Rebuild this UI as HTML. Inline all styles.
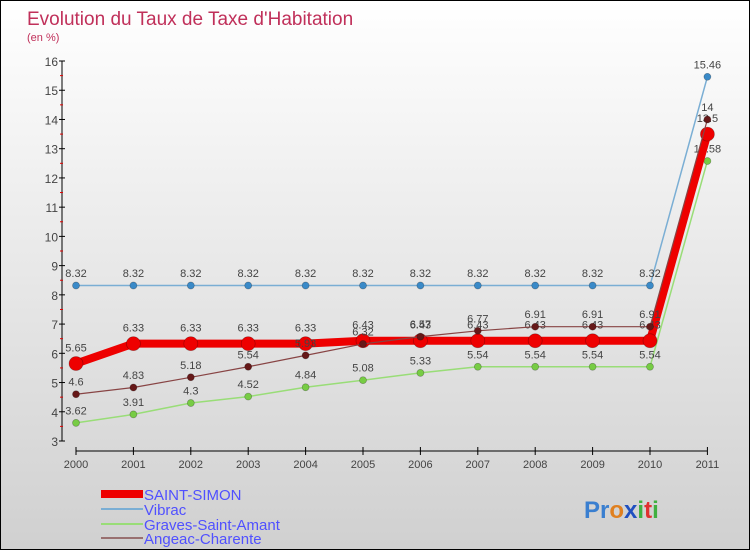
<!DOCTYPE html>
<html><head><meta charset="utf-8"><style>
body{margin:0}
#wrap{width:748px;height:548px;border:1px solid #000;background:linear-gradient(#ffffff,#d0d0d0);position:relative;overflow:hidden;font-family:"Liberation Sans",sans-serif}
</style></head><body>
<div id="wrap">
<svg id="svg" width="748" height="548" xmlns="http://www.w3.org/2000/svg" style="position:absolute;left:0;top:0">
<text x="26" y="24" font-size="19" fill="#c0305a">Evolution du Taux de Taxe d'Habitation</text>
<text x="26" y="40" font-size="11" fill="#c0305a">(en %)</text>
<g id="axes"></g><g id="series"></g>
<g>
<rect x="100" y="489" width="42" height="8" fill="#ee0000"/>
<text x="143" y="499" font-size="15" fill="#5050ff">SAINT-SIMON</text>
<line x1="100" y1="508" x2="142" y2="508" stroke="#7aaed4" stroke-width="2"/>
<text x="143" y="514" font-size="15" fill="#5050ff">Vibrac</text>
<line x1="100" y1="523" x2="142" y2="523" stroke="#99dd77" stroke-width="2"/>
<text x="143" y="529" font-size="15" fill="#5050ff">Graves-Saint-Amant</text>
<line x1="100" y1="537" x2="142" y2="537" stroke="#997070" stroke-width="2"/>
<text x="143" y="543" font-size="15" fill="#5050ff">Angeac-Charente</text>
</g>
<text x="583" y="517" font-size="24" font-weight="bold"><tspan fill="#3a7fd0">Pr</tspan><tspan fill="#e08020">o</tspan><tspan fill="#2050c0">x</tspan><tspan fill="#40b040">i</tspan><tspan fill="#e03030">t</tspan><tspan fill="#40b040">i</tspan></text>
</svg>
</div>
<script>
const years=["2000","2001","2002","2003","2004","2005","2006","2007","2008","2009","2010","2011"];
const saintSimon=[5.65,6.33,6.33,6.33,6.33,6.43,6.43,6.43,6.43,6.43,6.43,13.5];
const vibrac=[8.32,8.32,8.32,8.32,8.32,8.32,8.32,8.32,8.32,8.32,8.32,15.46];
const graves=[3.62,3.91,4.3,4.52,4.84,5.08,5.33,5.54,5.54,5.54,5.54,12.58];
const angeac=[4.6,4.83,5.18,5.54,5.93,6.32,6.57,6.77,6.91,6.91,6.91,14];
const yTicks=[3,4,5,6,7,8,9,10,11,12,13,14,15,16];
const NS="http://www.w3.org/2000/svg";
const X=i=>75+i*57.4;
const Y=v=>440-(v-3)*29.23;
function mk(p,t,a){const e=document.createElementNS(NS,t);for(const k in a)e.setAttribute(k,a[k]);p.appendChild(e);return e;}
const ax=document.getElementById('axes');
let e=mk(ax,'line',{x1:61,y1:Y(16),x2:61,y2:Y(3),stroke:'#000'});

e=mk(ax,'line',{x1:X(0),y1:450,x2:X(11),y2:450,stroke:'#000'});

yTicks.forEach(v=>{mk(ax,'line',{x1:58,y1:Y(v),x2:64,y2:Y(v),stroke:'#000'});
 if(v<16)mk(ax,'line',{x1:59,y1:Y(v+0.5),x2:62,y2:Y(v+0.5),stroke:'#e00000'});
 const t=mk(ax,'text',{x:57,y:Y(v)+5,'font-size':12,fill:'#444','text-anchor':'end'});t.textContent=v;
 });
years.forEach((y,i)=>{mk(ax,'line',{x1:X(i),y1:446,x2:X(i),y2:454,stroke:'#000'});
 const t=mk(ax,'text',{x:X(i),y:467,'font-size':11,fill:'#444','text-anchor':'middle'});t.textContent=y;
 });
const sg=document.getElementById('series');
function series(name,data,color,dot,w,r){
 const g=mk(sg,'g',{});
 const p=mk(g,'polyline',{points:data.map((v,i)=>X(i)+','+Y(v)).join(' '),fill:'none',stroke:color,'stroke-width':w,'stroke-linejoin':'round'});
 
 data.forEach((v,i)=>{const c=mk(g,'circle',{cx:X(i),cy:Y(v),r:r,fill:dot,stroke:'rgba(0,0,0,0.3)','stroke-width':0.7});
  
  const t=mk(g,'text',{x:X(i),y:Y(v)-r-5,'font-size':11,fill:'#444','text-anchor':'middle'});t.textContent=v;
  });
}
series('vibrac',vibrac,'#7aaed4','#3a8ac8',1.5,3.5);
series('graves-saint-amant',graves,'#99dd77','#77cc44',1.5,3.5);
series('saint-simon',saintSimon,'#ee0000','#ee0000',8,7);
series('angeac-charente',angeac,'#884444','#661818',1.2,3.5);
</script>
</body></html>
